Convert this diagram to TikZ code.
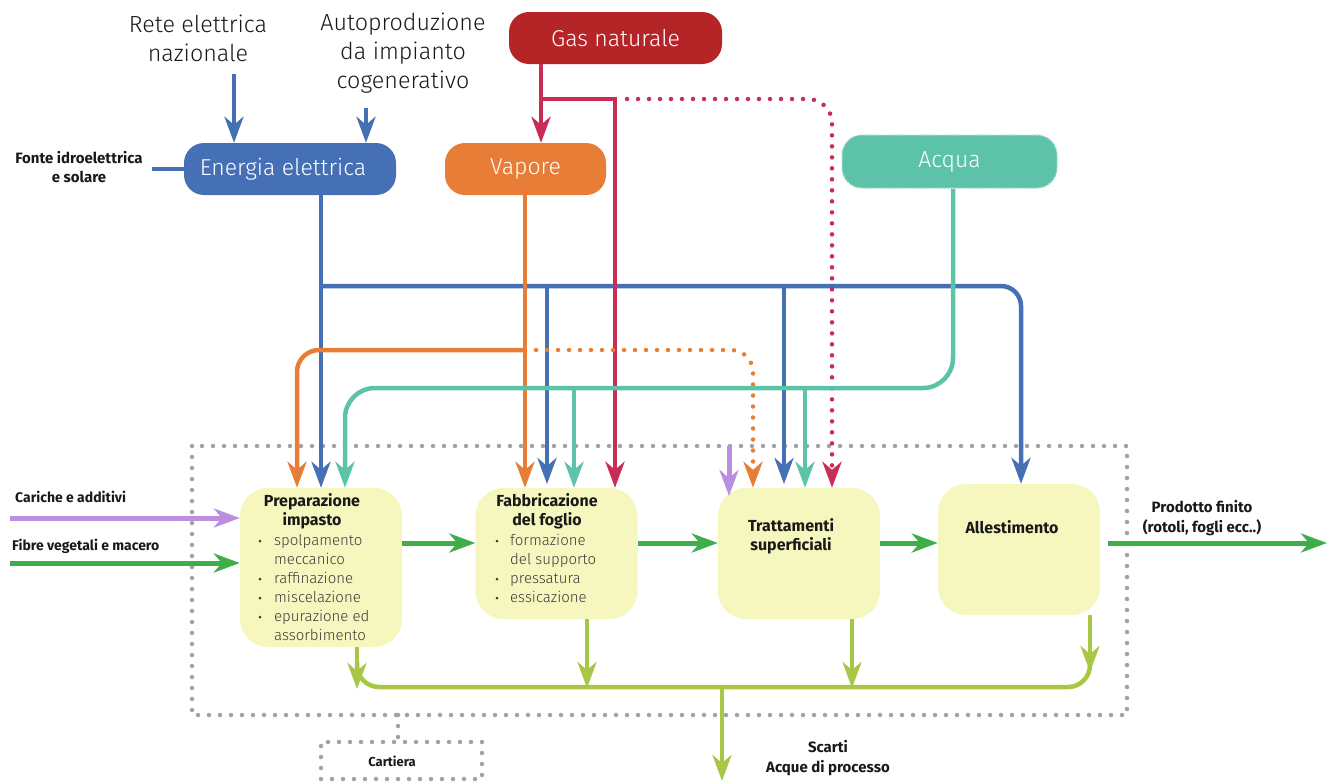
\documentclass[tikz,border=0pt]{standalone}
\usepackage{fontspec}
\setmainfont{Fira Sans}
\IfFontExistsTF{Fira Sans Light}{\newfontfamily\lightfont{Fira Sans Light}}{\newfontfamily\lightfont{Fira Sans}}
\usetikzlibrary{arrows.meta}
\definecolor{cblue}{RGB}{69,112,181}
\definecolor{corange}{RGB}{231,125,55}
\definecolor{cgasbox}{RGB}{181,36,39}
\definecolor{cred}{RGB}{200,45,85}
\definecolor{cteal}{RGB}{93,195,168}
\definecolor{cpurple}{RGB}{188,142,224}
\definecolor{cgreen}{RGB}{61,174,73}
\definecolor{clime}{RGB}{168,199,71}
\definecolor{cyel}{RGB}{245,247,190}
\definecolor{cgrey}{RGB}{160,162,170}
\definecolor{ctext}{RGB}{25,25,25}
\definecolor{citem}{RGB}{60,60,60}
\begin{document}
\begin{tikzpicture}[x=1pt,y=-1pt,
  flow/.style={line width=4.5pt},
  gflow/.style={line width=5pt},
  dotline/.style={line width=4.5pt,line cap=round,dash pattern=on 0pt off 11pt},
  greydot/.style={draw=cgrey,line width=4.5pt,line cap=round,dash pattern=on 0pt off 11pt},
  arr/.style={-{Stealth[length=26pt,width=19pt,inset=8pt]}},
  srcbox/.style={rounded corners=20pt,minimum height=52pt,text=white,inner sep=0pt,
    font=\lightfont\fontsize{23}{27}\selectfont},
  procbox/.style={fill=cyel,rounded corners=28pt,minimum width=162pt,inner sep=0pt},
  ptitle/.style={font=\bfseries\fontsize{16}{19}\selectfont,align=center,text=ctext,inner sep=0pt},
  item/.style={font=\lightfont\fontsize{15}{19}\selectfont,text=citem,inner sep=0pt,
    text height=11pt,text depth=3pt,anchor=west},
  bul/.style={fill=citem,circle,inner sep=0pt,minimum size=3pt},
  blabel/.style={font=\bfseries\fontsize{15}{19.5}\selectfont,align=center,text=ctext,inner sep=0pt},
  slabel/.style={font=\bfseries\fontsize{14}{19}\selectfont,text=ctext,inner sep=0pt},
  biglabel/.style={font=\lightfont\fontsize{23.3}{29}\selectfont,align=center,text=ctext,inner sep=0pt}
]
\useasboundingbox (0,0) rectangle (1330,782);

% ---------- source boxes ----------
\node[srcbox,fill=cblue,minimum width=212pt] (ee) at (290,169) {\hspace*{-14pt}Energia elettrica};
\node[srcbox,fill=corange,minimum width=161pt] (vap) at (525.5,169) {Vapore};
\node[srcbox,fill=cgasbox,minimum width=213pt] (gas) at (615.5,38) {Gas naturale};
\node[srcbox,fill=cteal,minimum width=215pt,minimum height=53pt,draw=cteal!55!white,
  line width=1.5pt,dotted] (acq) at (949.5,161.5) {Acqua};

\node[biglabel] (rete) at (198,38.5) {Rete elettrica\\nazionale};
\node[biglabel] (auto) at (403,53) {Autoproduzione\\da impianto\\cogenerativo};
\node[blabel] (fonte) at (79,167) {Fonte idroelettrica\\e solare};

% ---------- process boxes ----------
\node[procbox,minimum height=159pt] (prep) at (321,567.5) {};
\node[procbox,minimum height=131pt] (fabb) at (556.5,553.5) {};
\node[procbox,minimum height=131pt] (tratt) at (799,553.5) {};
\node[procbox,minimum height=131pt] (alle) at (1019,549.5) {};

\node[ptitle] (prept) at (312,511.5) {Preparazione\\impasto};
\node[ptitle] (fabbt) at (547,511.5) {Fabbricazione\\del foglio};
\node[ptitle] (trattt) at (791,536.5) {Trattamenti\\superficiali};
\node[ptitle] (allet) at (1012,527) {Allestimento};

\node[item] (pi1) at (274,541) {spolpamento};
\node[item] (pi2) at (274,560) {meccanico};
\node[item] (pi3) at (274,579) {raffinazione};
\node[item] (pi4) at (274,598) {miscelazione};
\node[item] (pi5) at (274,617) {epurazione ed};
\node[item] (pi6) at (274,636) {assorbimento};
\node[bul] (pb1) at (260,541) {};
\node[bul] (pb3) at (260,579) {};
\node[bul] (pb4) at (260,598) {};
\node[bul] (pb5) at (260,617) {};

\node[item] (fi1) at (510,541) {formazione};
\node[item] (fi2) at (510,560) {del supporto};
\node[item] (fi3) at (510,579) {pressatura};
\node[item] (fi4) at (510,598) {essicazione};
\node[bul] (fb1) at (497,541) {};
\node[bul] (fb3) at (497,579) {};
\node[bul] (fb4) at (497,598) {};

% ---------- plant boundary ----------
\draw[greydot] (192,446) rectangle (1127,715);
\node[draw=cgrey,line width=4.5pt,line cap=round,dash pattern=on 0pt off 11pt,
  minimum width=161pt,minimum height=37pt,inner sep=0pt] (cart) at (401.5,760.5) {};
\node[slabel,font=\bfseries\fontsize{13}{19}\selectfont] (cartt) at (392,761) {Cartiera};
\draw[greydot] (398,715) -- (cart.north -| 398,0);

% ---------- electricity ----------
\draw[flow,cblue,arr] (234,74) -- (234,0 |- ee.north);
\draw[flow,cblue,arr] (366,108) -- (366,0 |- ee.north);
\draw[flow,cblue] (152,169) -- (ee.west);
\draw[flow,cblue,arr] (321,0 |- ee.south) -- (321,0 |- prep.north);
\draw[flow,cblue,arr,rounded corners=20pt] (321,286) -- (1021,286) -- (1021,0 |- alle.north);
\draw[flow,cblue,arr] (547,286) -- (547,484);
\draw[flow,cblue,arr] (784,286) -- (784,484);

% ---------- gas ----------
\draw[flow,cred,arr] (541,0 |- gas.south) -- (541,0 |- vap.north);
\draw[flow,cred,arr] (541,99) -- (615,99) -- (615,0 |- fabb.north);
\draw[dotline,cred,arr,rounded corners=24pt] (627,99) -- (832,99) -- (832,0 |- tratt.north);

% ---------- steam ----------
\draw[flow,corange,arr] (525,0 |- vap.south) -- (525,0 |- fabb.north);
\draw[flow,corange,arr,rounded corners=22pt] (525,350) -- (297,350) -- (297,0 |- prep.north);
\draw[dotline,corange,arr,rounded corners=22pt] (536,350) -- (753,350) -- (753,0 |- tratt.north);

% ---------- water ----------
\draw[flow,cteal,arr,rounded corners=30pt] (953,0 |- acq.south) -- (953,388) -- (345,388) -- (345,0 |- prep.north);
\draw[flow,cteal,arr] (574,388) -- (574,0 |- fabb.north);
\draw[flow,cteal,arr] (805,388) -- (805,0 |- tratt.north);

% ---------- additives ----------
\draw[gflow,cpurple,arr] (729,446) -- (729,496);
\draw[gflow,cpurple,arr] (10,518) -- (prep.west |- 0,518);
\draw[gflow,cgreen,arr] (10,563) -- (prep.west |- 0,563);
\node[slabel,anchor=west] (car) at (15,497) {Cariche e additivi};
\node[slabel,anchor=west] (fib) at (12,546) {Fibre vegetali e macero};

% ---------- main flow ----------
\draw[gflow,cgreen,arr] (prep.east |- 0,543) -- (fabb.west |- 0,543);
\draw[gflow,cgreen,arr] (fabb.east |- 0,543) -- (tratt.west |- 0,543);
\draw[gflow,cgreen,arr] (tratt.east |- 0,543) -- (alle.west |- 0,543);
\draw[gflow,cgreen,arr] (1108,543) -- (1327,543);
\node[blabel] (prod) at (1202,518) {Prodotto finito\\(rotoli, fogli ecc..)};

% ---------- waste ----------
\draw[flow,clime,rounded corners=22pt] (357,662) -- (357,687) -- (1090,687) -- (1090,662);
\draw[flow,clime,arr] (357,0 |- prep.south) -- (357,689);
\draw[flow,clime,arr] (587,0 |- fabb.south) -- (587,688);
\draw[flow,clime,arr] (852,0 |- tratt.south) -- (852,688);
\draw[flow,clime,arr] (1090,0 |- alle.south) -- (1090,672);
\draw[flow,clime,arr] (722,687) -- (722,781);
\node[blabel] (scarti) at (828,758) {Scarti\\Acque di processo};
\end{tikzpicture}
\end{document}
